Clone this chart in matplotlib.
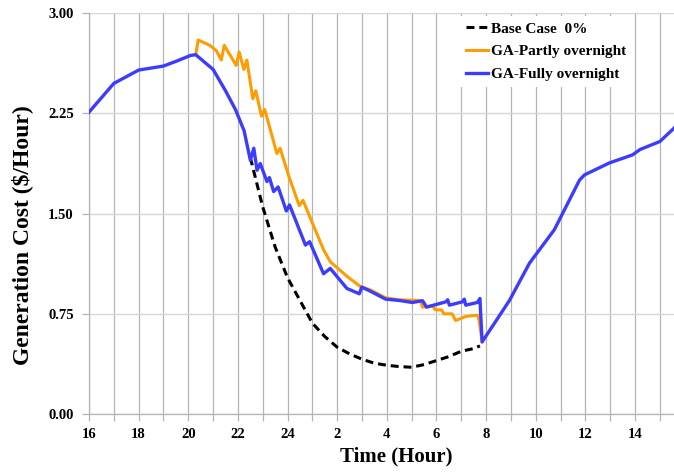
import matplotlib
matplotlib.use("Agg")
import matplotlib.pyplot as plt
import numpy as np

# Time in hours counted from 16:00 of day 1 (24 -> midnight, 32 -> 8:00 next day)
base_t = [22.5, 23.0, 23.5, 24.0, 24.5, 25.0, 25.5, 26.0, 26.5, 27.0, 27.5, 28.0,
          28.5, 29.0, 29.5, 30.0, 30.5, 31.0, 31.5, 31.75]
base_v = [1.92, 1.55, 1.25, 1.02, 0.85, 0.68, 0.58, 0.50, 0.45, 0.41, 0.38, 0.365,
          0.355, 0.35, 0.37, 0.40, 0.43, 0.47, 0.49, 0.51]

partly_t = [20.3, 20.4, 20.87, 21.13, 21.33, 21.45, 21.93, 22.05, 22.24, 22.36, 22.6, 22.72,
            22.95, 23.08, 23.57, 23.7, 24.05, 24.47, 24.62, 25.45, 25.72, 26.4, 26.93,
            27.33, 27.95, 28.5, 29.35, 29.44, 29.84, 29.95, 30.2, 30.3, 30.63, 30.77,
            31.18, 31.65, 31.72, 31.84]
partly_v = [2.69, 2.80, 2.76, 2.72, 2.65, 2.76, 2.61, 2.71, 2.58, 2.65, 2.36, 2.42,
            2.23, 2.28, 1.95, 1.99, 1.78, 1.56, 1.60, 1.23, 1.14, 1.03, 0.955,
            0.93, 0.87, 0.855, 0.85, 0.80, 0.81, 0.78, 0.78, 0.75, 0.75, 0.70,
            0.73, 0.74, 0.70, 0.54]

fully_t = [16.0, 17.0, 18.0, 19.0, 19.5, 20.1, 20.3, 21.0, 21.5, 21.9, 22.25, 22.5,
           22.64, 22.77, 22.9, 23.17, 23.27, 23.44, 23.62, 23.95, 24.08, 24.72, 24.89,
           25.45, 25.72, 26.39, 26.89, 26.99, 27.33, 27.95, 28.5, 29.03, 29.44, 29.6,
           30.38, 30.45, 30.52, 31.05, 31.12, 31.18, 31.65, 31.75, 31.84, 32.94, 33.75,
           34.75, 35.76, 35.96, 36.97, 37.9, 38.2, 39.0, 39.57]
fully_v = [2.26, 2.475, 2.575, 2.605, 2.64, 2.685, 2.69, 2.58, 2.42, 2.28, 2.12, 1.90,
           1.99, 1.825, 1.875, 1.74, 1.77, 1.665, 1.70, 1.52, 1.565, 1.265, 1.29,
           1.05, 1.09, 0.94, 0.90, 0.95, 0.92, 0.86, 0.85, 0.835, 0.848, 0.80,
           0.84, 0.855, 0.815, 0.84, 0.86, 0.815, 0.835, 0.865, 0.54, 0.85, 1.13,
           1.38, 1.75, 1.79, 1.88, 1.94, 1.98, 2.04, 2.14]

xtick_pos = [16, 18, 20, 22, 24, 26, 28, 30, 32, 34, 36, 38]
xtick_labels = ["16", "18", "20", "22", "24", "2", "4", "6", "8", "10", "12", "14"]
ytick_pos = [0.0, 0.75, 1.5, 2.25, 3.0]
ytick_labels = ["0.00", "0.75", "1.50", "2.25", "3.00"]

plt.rcParams["font.family"] = ["Liberation Serif", "DejaVu Serif"]
plt.rcParams["font.weight"] = "bold"

W, H = 674, 473
fig = plt.figure(figsize=(W / 100, H / 100), dpi=100)
ax = fig.add_axes([89 / W, 59 / H, 1 - 89 / W, (414 - 13.3) / H])

ax.plot(base_t, base_v, color="black", lw=2.2, ls=(0, (2.6, 1.6)), label="Base Case  0%", zorder=3)
ax.plot(partly_t, partly_v, color="#FF9C00", lw=2.2, label="GA-Partly overnight", zorder=4)
ax.plot(fully_t, fully_v, color="#3C3CFF", lw=2.4, label="GA-Fully overnight", zorder=5)

ax.set_xlim(16, 39.57)
ax.set_ylim(0, 3.0)
ax.set_xticks(xtick_pos)
ax.set_xticklabels(xtick_labels)
ax.set_xticks(np.arange(16, 40, 1), minor=True)
ax.set_yticks(ytick_pos)
ax.set_yticklabels(ytick_labels)

ax.grid(True, axis="x", which="both", color="#b4b4b4", lw=0.9)
ax.grid(True, axis="y", which="major", color="#d6d6d6", lw=1.0)
ax.set_axisbelow(True)

for s in ["top", "right"]:
    ax.spines[s].set_visible(False)
for s in ["left", "bottom"]:
    ax.spines[s].set_color("#b4b4b4")
    ax.spines[s].set_linewidth(0.9)

ax.tick_params(axis="both", which="both", color="#b4b4b4", length=5, width=0.9,
               labelsize=10.5)
ax.tick_params(axis="y", pad=6)
ax.tick_params(axis="x", pad=5)
for lab in ax.get_xticklabels() + ax.get_yticklabels():
    lab.set_fontweight("bold")

ax.set_xlabel("Time (Hour)", fontsize=15, fontweight="bold")
ax.set_ylabel("Generation Cost ($/Hour)", fontsize=17, fontweight="bold")
ax.xaxis.set_label_coords((396 - 89) / 585, (414 - 446) / 400.7)
ax.yaxis.set_label_coords((33 - 89) / 585, (414 - 235) / 400.7)

leg = ax.legend(loc="upper left", bbox_to_anchor=((460 - 89) / 585, 1.0 - 2.5 / 400.7),
                frameon=True, fancybox=False, edgecolor="none", facecolor="white",
                framealpha=1.0, prop={"weight": "bold", "size": 11}, handlelength=1.45,
                handletextpad=0.2, labelspacing=0.6, borderpad=0.4, borderaxespad=0.0)

fig.savefig("out.png", dpi=100)
